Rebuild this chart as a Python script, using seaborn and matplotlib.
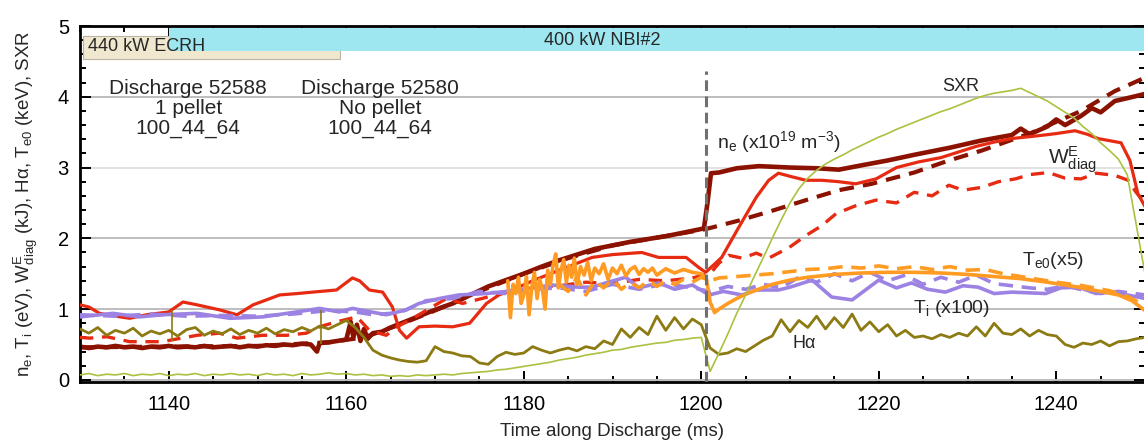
import numpy as np
import matplotlib
matplotlib.use("Agg")
import matplotlib.pyplot as plt
from matplotlib.ticker import MultipleLocator
import seaborn as sns

# heating / pellet timing (ms)
ecrh_on, ecrh_off = 1130.3, 1159.3
nbi_on, nbi_off = 1140.0, 1250.0
pellet_time = 1200.5

# n_e, discharge 52588 (pellet), solid
ne_p_t = [1130, 1131, 1132, 1133, 1134, 1135, 1136, 1137, 1138, 1139, 1140, 1141, 1142, 1143,
          1144, 1145, 1146, 1147, 1148, 1149, 1150, 1151, 1152, 1153, 1154, 1155, 1156, 1156.7,
          1157, 1158, 1159, 1160, 1160.5, 1160.8, 1161.2, 1161.6, 1162, 1162.4, 1163, 1164,
          1165, 1166, 1168, 1170, 1172, 1174, 1176, 1178, 1180, 1182, 1184, 1186, 1188, 1190,
          1192, 1194, 1196, 1198, 1200.3, 1200.7, 1201.1, 1202, 1204, 1206.5, 1210, 1213,
          1215.5, 1218, 1221, 1224, 1228, 1231.5, 1235, 1236, 1237, 1239, 1240, 1241, 1242.8,
          1244, 1245, 1246.6, 1248, 1250]
ne_p = [0.47, 0.45, 0.47, 0.46, 0.48, 0.46, 0.47, 0.45, 0.47, 0.46, 0.48, 0.46, 0.47, 0.46,
        0.48, 0.46, 0.47, 0.48, 0.46, 0.48, 0.47, 0.49, 0.48, 0.50, 0.49, 0.51, 0.50, 0.40,
        0.52, 0.53, 0.55, 0.57, 0.82, 0.60, 0.78, 0.55, 0.72, 0.58, 0.66, 0.68,
        0.74, 0.79, 0.89, 0.99, 1.08, 1.20, 1.32, 1.41, 1.50, 1.60, 1.69, 1.77, 1.85, 1.90,
        1.95, 1.99, 2.03, 2.08, 2.14, 2.50, 2.92, 2.93, 2.99, 3.02, 3.00, 2.99,
        2.97, 3.03, 3.10, 3.18, 3.28, 3.38, 3.46, 3.55, 3.47, 3.58, 3.68, 3.60, 3.73,
        3.84, 3.78, 3.94, 3.98, 4.04]

# n_e, discharge 52580 (no pellet), dashed
ne_n_t = [1130, 1140, 1150, 1158, 1162, 1166, 1170, 1175, 1180, 1185, 1190, 1195, 1200.5,
          1204.2, 1208, 1211.8, 1215.5, 1219.2, 1224, 1227.9, 1231.6, 1237.2, 1242.8, 1246.6, 1250]
ne_n = [0.46, 0.47, 0.48, 0.53, 0.60, 0.78, 0.98, 1.25, 1.50, 1.72, 1.90, 2.01, 2.13,
        2.25, 2.39, 2.54, 2.68, 2.77, 2.93, 3.10, 3.24, 3.49, 3.80, 4.08, 4.27]

# W^E_diag, 52588, solid
w_p_t = [1130, 1131, 1132.2, 1134, 1135.6, 1137.5, 1140, 1141.6, 1143.2, 1145.7, 1147.7, 1149.5,
         1152.5, 1154.5, 1156.2, 1158.9, 1160.7, 1161.5, 1162.6, 1164.1, 1165.2, 1166, 1166.8,
         1168.2, 1170, 1172, 1173.9, 1175.8, 1177.2, 1178.7, 1181, 1184, 1187.7, 1190, 1193.3,
         1195.2, 1198.3, 1199.7, 1200.5, 1202.3, 1204.2, 1206.2, 1207.6, 1208.7, 1210.2, 1211.8,
         1213.6, 1215.5, 1217.4, 1219.7, 1222, 1224.5, 1227, 1229, 1231, 1233, 1235, 1238, 1240,
         1242.1, 1243.5, 1244.7, 1247.3, 1248.3, 1249.2, 1250]
w_p = [1.06, 1.03, 0.94, 0.90, 0.87, 0.92, 0.96, 1.10, 1.06, 0.99, 0.92, 1.06,
       1.20, 1.22, 1.24, 1.27, 1.44, 1.40, 1.27, 1.24, 1.03, 0.70, 0.59,
       0.75, 0.76, 0.75, 0.80, 1.08, 1.20, 1.27, 1.40, 1.55, 1.73, 1.77, 1.80,
       1.73, 1.73, 1.59, 1.52, 1.73, 2.15, 2.58, 2.82, 2.92, 2.87, 2.82,
       2.82, 2.80, 2.77, 2.84, 3.00, 3.08, 3.14, 3.22, 3.30, 3.36, 3.41, 3.45, 3.48,
       3.52, 3.47, 3.41, 3.35, 3.10, 2.63, 2.45]

# W^E_diag, 52580, dashed
w_n_t = [1130, 1131.1, 1133, 1134.5, 1135.6, 1137.5, 1139.3, 1141, 1143.2, 1145.7, 1147.7, 1150.6,
         1153.3, 1155.5, 1157, 1158.9, 1161.2, 1162.6, 1164.5, 1165.7, 1167.1, 1169.4, 1171.3,
         1173.1, 1175.3, 1178, 1181, 1184, 1187, 1190, 1193, 1196, 1199, 1201, 1202, 1203.1,
         1204.6, 1206.2, 1207.6, 1209.9, 1211.8, 1213.6, 1215.2, 1217.4, 1219.7, 1222, 1224,
         1226, 1227.9, 1229.5, 1231.6, 1233.5, 1235.4, 1237, 1239.1, 1241, 1242.8, 1244.5,
         1246.6, 1248.1, 1249, 1250]
w_n = [0.60, 0.59, 0.61, 0.57, 0.54, 0.54, 0.54, 0.58, 0.63, 0.66, 0.59, 0.63,
       0.63, 0.66, 0.75, 0.82, 0.89, 0.70, 0.63, 0.75, 0.84, 1.01, 1.15,
       1.08, 1.15, 1.24, 1.30, 1.33, 1.38, 1.36, 1.42, 1.40, 1.44, 1.50, 1.65, 1.76,
       1.72, 1.79, 1.72, 1.87, 2.04, 2.18, 2.35, 2.46, 2.54, 2.50, 2.65,
       2.60, 2.75, 2.68, 2.72, 2.80, 2.84, 2.90, 2.93, 2.85, 2.84, 2.92,
       2.89, 2.82, 2.65, 2.50]

# T_i (x100), 52588 solid
ti_p_t = [1130, 1133.7, 1136.7, 1139.3, 1143.2, 1146.9, 1150.6, 1154.4, 1157, 1159.2, 1160.7,
          1164.5, 1166.8, 1168.2, 1170.5, 1172.7, 1175.8, 1179.5, 1183.2, 1186.2, 1187.7, 1189.5,
          1191.5, 1193, 1195.2, 1197, 1199, 1200.9, 1202.5, 1204.6, 1206.2, 1208.7, 1210, 1212.5,
          1214.7, 1217, 1220, 1222, 1223.7, 1225.5, 1227.5, 1229.5, 1231.2, 1233, 1235, 1238.8,
          1240.5, 1242.5, 1244.5, 1246.2, 1248, 1250]
ti_p = [0.89, 0.94, 0.89, 0.92, 0.94, 0.87, 0.89, 0.96, 1.01, 0.96, 1.01,
        0.92, 0.99, 1.08, 1.15, 1.20, 1.22, 1.27, 1.34, 1.31, 1.31, 1.38,
        1.45, 1.30, 1.37, 1.28, 1.34, 1.20, 1.25, 1.20, 1.27, 1.27, 1.31, 1.41,
        1.17, 1.13, 1.41, 1.30, 1.37, 1.28, 1.24, 1.33, 1.31, 1.22, 1.24, 1.22,
        1.30, 1.31, 1.22, 1.24, 1.20, 1.15]

# T_i (x100), 52580 dashed
ti_n_t = [1130, 1134, 1138, 1142, 1146, 1150, 1154, 1158, 1161, 1163, 1166, 1169, 1172, 1175,
          1178, 1181, 1184, 1187, 1190, 1193, 1196, 1199, 1201, 1203, 1205, 1207, 1209, 1211,
          1213, 1215, 1217, 1219, 1221, 1223, 1225, 1227, 1229, 1231, 1233, 1235, 1237, 1239,
          1241, 1243, 1245, 1247, 1250]
ti_n = [0.92, 0.90, 0.93, 0.90, 0.91, 0.90, 0.93, 0.98, 0.96, 0.92, 0.95, 1.12, 1.15, 1.25,
        1.22, 1.28, 1.30, 1.25, 1.35, 1.28, 1.36, 1.30, 1.25, 1.32, 1.28, 1.35, 1.30, 1.45,
        1.38, 1.50, 1.40, 1.52, 1.40, 1.48, 1.35, 1.45, 1.38, 1.48, 1.36, 1.33, 1.30, 1.28,
        1.33, 1.27, 1.22, 1.25, 1.20]

# T_e0 (x5), 52588 solid
te_p_t = [1178.2, 1178.5, 1178.8, 1179.1, 1179.4, 1179.7, 1180.0, 1180.3, 1180.6, 1180.9, 1181.2,
          1181.5, 1181.8, 1182.1, 1182.4, 1182.7, 1183.0, 1183.3, 1183.6, 1183.9, 1184.2, 1184.5,
          1184.8, 1185.1, 1185.4, 1185.7, 1186.0, 1186.4, 1186.8, 1187.2, 1187.6, 1188.0, 1188.5,
          1189.0, 1189.5, 1190.0, 1190.5, 1191.0, 1191.5, 1192.0, 1192.5, 1193.0, 1193.5, 1194.0,
          1194.5, 1195.0, 1196.0, 1197.0, 1198.0, 1199.0, 1200.0, 1200.6, 1201.0, 1201.5, 1202.0,
          1203.0, 1204.0, 1205.0, 1206.0, 1208.0, 1210.0, 1212.0, 1215.0, 1218.0, 1221.0, 1224.0,
          1227.0, 1230.0, 1233.0, 1236.0, 1239.0, 1242.0, 1245.0, 1247.0, 1248.5, 1250.0]
te_p = [1.40, 0.88, 1.35, 1.22, 1.45, 1.08, 1.20, 1.46, 0.92, 1.30, 1.52,
        1.15, 1.42, 1.28, 1.00, 1.55, 1.35, 1.62, 1.78, 1.30, 1.55, 1.70,
        1.38, 1.62, 1.45, 1.72, 1.35, 1.60, 1.48, 1.66, 1.40, 1.58, 1.50,
        1.64, 1.42, 1.58, 1.50, 1.62, 1.47, 1.56, 1.60, 1.49, 1.57, 1.52,
        1.58, 1.48, 1.57, 1.51, 1.56, 1.52, 1.50, 1.42, 1.10, 0.95, 1.00,
        1.08, 1.15, 1.21, 1.26, 1.35, 1.41, 1.45, 1.49, 1.51, 1.52, 1.52,
        1.51, 1.49, 1.46, 1.43, 1.38, 1.32, 1.25, 1.20, 1.12, 0.98]

# T_e0 (x5), 52580 dashed
te_n_t = [1184, 1185, 1186, 1187, 1188, 1189, 1190, 1191, 1192, 1193, 1194, 1195, 1196, 1197,
          1198, 1199, 1200, 1201, 1202, 1204, 1206, 1208, 1210, 1212, 1214, 1216, 1218, 1220,
          1222, 1224, 1226, 1228, 1230, 1232, 1234, 1236, 1238, 1240, 1243, 1246, 1248, 1250]
te_n = [1.35, 1.25, 1.45, 1.20, 1.40, 1.30, 1.42, 1.28, 1.38, 1.30, 1.40, 1.32, 1.40, 1.35,
        1.42, 1.38, 1.45, 1.40, 1.44, 1.46, 1.48, 1.50, 1.53, 1.56, 1.57, 1.60, 1.58, 1.61,
        1.57, 1.60, 1.56, 1.60, 1.55, 1.56, 1.50, 1.46, 1.42, 1.38, 1.33, 1.26, 1.18, 1.05]

# H-alpha, 1 ms samples from 1130 to 1250
ha_t = np.arange(1130, 1251)
ha = [0.72, 0.66, 0.74, 0.63, 0.70, 0.66, 0.73, 0.62, 0.69, 0.65,
      0.70, 0.62, 0.71, 0.74, 0.63, 0.69, 0.65, 0.72, 0.64, 0.70,
      0.66, 0.73, 0.65, 0.71, 0.68, 0.74, 0.69, 0.76, 0.72, 0.78,
      0.84, 0.74, 0.60, 0.42, 0.35, 0.31, 0.28, 0.26, 0.25, 0.27,
      0.47, 0.40, 0.38, 0.34, 0.33, 0.24, 0.22, 0.33, 0.39, 0.36,
      0.38, 0.47, 0.42, 0.38, 0.42, 0.45, 0.41, 0.47, 0.44, 0.55,
      0.50, 0.72, 0.60, 0.74, 0.64, 0.90, 0.70, 0.88, 0.72, 0.86,
      0.78, 0.45, 0.36, 0.38, 0.44, 0.40, 0.48, 0.56, 0.62, 0.85,
      0.68, 0.84, 0.74, 0.90, 0.72, 0.88, 0.74, 0.93, 0.70, 0.82,
      0.68, 0.78, 0.62, 0.70, 0.60, 0.62, 0.58, 0.64, 0.60, 0.66,
      0.62, 0.75, 0.62, 0.80, 0.66, 0.64, 0.72, 0.62, 0.70, 0.64,
      0.62, 0.50, 0.46, 0.52, 0.50, 0.55, 0.48, 0.54, 0.55, 0.58,
      0.60]
ha_spike_t = [1140.4, 1157.2]
ha_spike_lo = [0.55, 0.50]
ha_spike_hi = [0.99, 0.99]

# SXR, 1 ms samples from 1130 to 1250
sxr_t = np.arange(1130, 1251)
sxr = [0.07, 0.09, 0.06, 0.08, 0.07, 0.09, 0.06, 0.08, 0.07, 0.09,
       0.06, 0.08, 0.07, 0.09, 0.06, 0.08, 0.07, 0.09, 0.07, 0.08,
       0.06, 0.09, 0.07, 0.08, 0.06, 0.09, 0.07, 0.08, 0.10, 0.08,
       0.09, 0.07, 0.08, 0.06, 0.07, 0.05, 0.06, 0.05, 0.07, 0.06,
       0.07, 0.08, 0.07, 0.09, 0.10, 0.11, 0.12, 0.14, 0.15, 0.17,
       0.19, 0.21, 0.23, 0.25, 0.28, 0.30, 0.32, 0.35, 0.37, 0.39,
       0.42, 0.43, 0.46, 0.48, 0.50, 0.52, 0.53, 0.56, 0.57, 0.59,
       0.60, 0.12, 0.38, 0.65, 0.94, 1.20, 1.47, 1.73, 2.00, 2.26,
       2.50, 2.70, 2.85, 2.96, 3.05, 3.12, 3.18, 3.25, 3.31, 3.37,
       3.43, 3.48, 3.54, 3.59, 3.64, 3.69, 3.74, 3.79, 3.83, 3.88,
       3.93, 3.98, 4.02, 4.05, 4.07, 4.09, 4.12, 4.06, 4.00, 3.94,
       3.86, 3.78, 3.70, 3.58, 3.48, 3.35, 3.24, 3.12, 2.90, 2.20,
       1.50]

sns.set_theme(style="ticks")
plt.rcParams["font.family"] = ["Liberation Sans", "DejaVu Sans"]
plt.rcParams["mathtext.fontset"] = "custom"
plt.rcParams["mathtext.rm"] = "Liberation Sans"
plt.rcParams["mathtext.it"] = "Liberation Sans"

fig = plt.figure(figsize=(11.44, 4.41), dpi=100)
ax = fig.add_axes([80 / 1144, 1 - 382 / 441, 1065 / 1144, 356 / 441])


def line(t, v, color, lw, ls="-", z=2):
    sns.lineplot(x=t, y=v, ax=ax, color=color, lw=lw, linestyle=ls,
                 estimator=None, sort=False, legend=False, zorder=z)


line(ne_n_t, ne_n, "#8b1200", 3.0, (0, (3.5, 2.2)), 2)
line(ne_p_t, ne_p, "#8b1200", 3.3, "-", 2)
line(w_n_t, w_n, "#e62b12", 2.4, (0, (4, 2.6)), 3)
line(w_p_t, w_p, "#e62b12", 2.3, "-", 3)
line(ti_n_t, ti_n, "#9c82e3", 2.6, (0, (4, 2.4)), 3)
line(ti_p_t, ti_p, "#9c82e3", 2.6, "-", 3)
line(te_n_t, te_n, "#ff9b22", 2.6, (0, (4, 2.4)), 4)
line(te_p_t, te_p, "#ff9b22", 2.6, "-", 4)
line(ha_t, ha, "#8c7a12", 2.0, "-", 4)
ax.vlines(ha_spike_t, ha_spike_lo, ha_spike_hi, color="#8c7a12", lw=1.2, zorder=4)
line(sxr_t, sxr, "#a9c23f", 1.2, "-", 5)

# pellet injection
ax.vlines(pellet_time, -0.03, 4.37, color="#707070", lw=2.2,
          linestyle=(0, (3.5, 1.8)), zorder=6)

# heating bars
ax.barh(4.695, ecrh_off - ecrh_on, left=ecrh_on, height=0.33, color="#f0e7cf",
        edgecolor="#b8b3a2", lw=0.8, zorder=6)
ax.barh(4.805, nbi_off - nbi_on, left=nbi_on, height=0.33, color="#9ee7f0",
        edgecolor="none", zorder=7)
ax.text(1130.9, 4.71, "440 kW ECRH", fontsize=13, va="center", ha="left", zorder=8)
ax.text(1188.9, 4.80, "400 kW NBI#2", fontsize=13, va="center", ha="center", zorder=8)

# annotations
ax.text(1142.2, 3.83, "Discharge 52588\n1 pellet\n100_44_64", fontsize=15,
        ha="center", va="center", linespacing=1.05)
ax.text(1163.8, 3.83, "Discharge 52580\nNo pellet\n100_44_64", fontsize=15,
        ha="center", va="center", linespacing=1.05)
ax.text(1201.8, 3.28, r"n$_\mathregular{e}$ (x10$^\mathregular{19}$ m$^\mathregular{-3}$)",
        fontsize=14, va="baseline")
ax.text(1229.2, 4.14, "SXR", fontsize=13, ha="center", va="center")
ax.text(1239.1, 3.05, r"W$^\mathregular{E}_\mathregular{diag}$", fontsize=15, va="baseline")
ax.text(1236.1, 1.62, r"T$_\mathregular{e0}$(x5)", fontsize=14, va="baseline")
ax.text(1223.9, 0.95, r"T$_\mathregular{i}$ (x100)", fontsize=14, va="baseline")
ax.text(1210.3, 0.45, "Hα", fontsize=13, va="baseline")

ax.set_xlim(1130, 1250)
ax.set_ylim(-0.03, 5.0)
ax.xaxis.set_major_locator(MultipleLocator(20))
ax.xaxis.set_minor_locator(MultipleLocator(5))
ax.yaxis.set_major_locator(MultipleLocator(1))
ax.yaxis.set_minor_locator(MultipleLocator(0.2))
ax.tick_params(which="both", direction="in", top=True, right=True, width=1.4,
               labelsize=14.5, colors="black")
ax.tick_params(which="major", length=8)
ax.tick_params(which="minor", length=4.5)
ax.tick_params(axis="x", pad=9)
ax.tick_params(axis="y", pad=8)
for s in ax.spines.values():
    s.set_linewidth(2.0)
    s.set_color("black")

ax.set_axisbelow(True)
ax.grid(axis="y", which="major", color="#bdbdbd", lw=1.4)
for val, gl in zip(ax.get_yticks(), ax.yaxis.get_gridlines()):
    if abs(val - 3) < 1e-6:
        gl.set_color("#e2e2e2")

ax.set_xlabel("Time along Discharge (ms)", fontsize=13.5, labelpad=7)
ax.set_ylabel(r"n$_\mathregular{e}$, T$_\mathregular{i}$ (eV), W$^\mathregular{E}_\mathregular{diag}$ (kJ), "
              r"H$\mathregular{\alpha}$, T$_\mathregular{e0}$ (keV), SXR", fontsize=13.5)
ax.yaxis.set_label_coords(-0.038, 0.5)

fig.savefig("out.png", dpi=100)
